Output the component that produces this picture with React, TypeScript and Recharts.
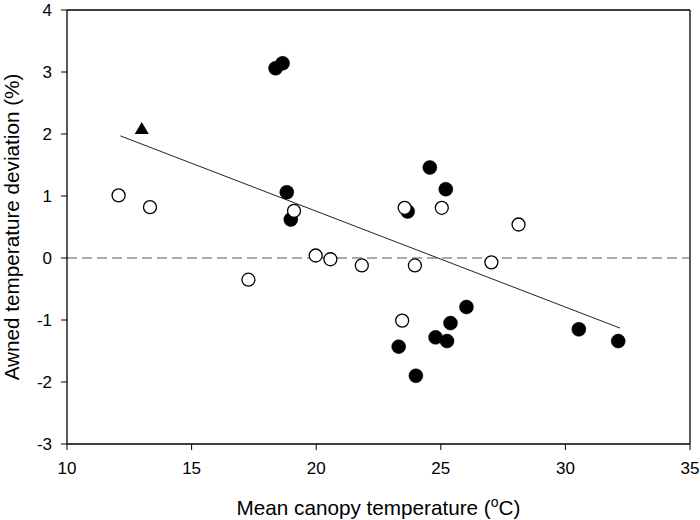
import { ScatterChart, Scatter, XAxis, YAxis, ReferenceLine } from "recharts";

// open circles
const openPoints = [
  { x: 12.07, y: 1.01 },
  { x: 13.33, y: 0.82 },
  { x: 17.28, y: -0.35 },
  { x: 19.11, y: 0.76 },
  { x: 19.98, y: 0.04 },
  { x: 20.57, y: -0.02 },
  { x: 21.83, y: -0.12 },
  { x: 23.45, y: -1.01 },
  { x: 23.55, y: 0.81 },
  { x: 23.96, y: -0.12 },
  { x: 25.04, y: 0.81 },
  { x: 27.03, y: -0.07 },
  { x: 28.12, y: 0.54 },
];

// filled circles
const filledPoints = [
  { x: 18.37, y: 3.06 },
  { x: 18.65, y: 3.14 },
  { x: 18.82, y: 1.06 },
  { x: 18.98, y: 0.62 },
  { x: 23.31, y: -1.43 },
  { x: 23.67, y: 0.75 },
  { x: 24.0, y: -1.9 },
  { x: 24.56, y: 1.46 },
  { x: 24.79, y: -1.28 },
  { x: 25.2, y: 1.11 },
  { x: 25.25, y: -1.34 },
  { x: 25.39, y: -1.05 },
  { x: 26.03, y: -0.79 },
  { x: 30.54, y: -1.15 },
  { x: 32.12, y: -1.34 },
];

const trianglePoints = [{ x: 13.0, y: 2.08 }];

// regression line end points
const fitLine = [
  { x: 12.14, y: 1.97 },
  { x: 32.19, y: -1.13 },
];

const xTicks = [10, 15, 20, 25, 30, 35];
const yTicks = [-3, -2, -1, 0, 1, 2, 3, 4];

const FONT = "'Liberation Sans', Arial, Helvetica, sans-serif";
const tickStyle = { fontSize: 17, fill: "#000", fontFamily: FONT };

const OpenDot = (props: any) => (
  <circle cx={props.cx} cy={props.cy} r={6.5} fill="#fff" stroke="#000" strokeWidth={1.3} />
);

const FilledDot = (props: any) => (
  <circle cx={props.cx} cy={props.cy} r={7} fill="#000" stroke="#000" strokeWidth={0.5} />
);

const Triangle = (props: any) => {
  const { cx, cy } = props;
  return (
    <path d={`M${cx},${cy - 7} L${cx + 7},${cy + 5} L${cx - 7},${cy + 5} Z`} fill="#000" />
  );
};

const XLabel = (props: any) => {
  const vb = props.viewBox || { x: 67, y: 444, width: 623, height: 76 };
  return (
    <text x={vb.x + vb.width / 2} y={vb.y + 71} textAnchor="middle" fontSize={20.7} fontFamily={FONT} fill="#000">
      Mean canopy temperature (
      <tspan fontSize={14} dy={-8}>o</tspan>
      <tspan dy={8}>C)</tspan>
    </text>
  );
};

const YLabel = (props: any) => {
  const vb = props.viewBox || { x: 0, y: 10, width: 67, height: 434 };
  const cx = 18.5;
  const cy = vb.y + vb.height / 2;
  return (
    <text x={cx} y={cy} transform={`rotate(-90, ${cx}, ${cy})`} textAnchor="middle" fontSize={20.7} fontFamily={FONT} fill="#000">
      Awned temperature deviation (%)
    </text>
  );
};

export default function App() {
  return (
    <div style={{ position: "absolute", left: 0, top: 0, background: "#fff" }}>
      <ScatterChart width={700} height={520} margin={{ top: 10, right: 10, left: 0, bottom: 0 }}>
        <XAxis
          type="number"
          dataKey="x"
          domain={[10, 35]}
          ticks={xTicks}
          allowDataOverflow
          height={76}
          tickSize={6}
          tickMargin={12}
          tick={tickStyle}
          stroke="#000"
          axisLine={{ stroke: "#000", strokeWidth: 1.3 }}
          tickLine={{ stroke: "#000", strokeWidth: 1 }}
          label={<XLabel />}
        />
        <YAxis
          type="number"
          dataKey="y"
          domain={[-3, 4]}
          ticks={yTicks}
          allowDataOverflow
          width={67}
          tickSize={6}
          tickMargin={9}
          tick={tickStyle}
          stroke="#000"
          axisLine={{ stroke: "#000", strokeWidth: 1.3 }}
          tickLine={{ stroke: "#000", strokeWidth: 1 }}
          label={<YLabel />}
        />
        <ReferenceLine y={4} stroke="#000" strokeWidth={1.3} />
        <ReferenceLine x={35} stroke="#000" strokeWidth={1.3} />
        <ReferenceLine y={0} stroke="#555" strokeWidth={1} strokeDasharray="10 5" />
        <Scatter data={fitLine} line={{ stroke: "#222", strokeWidth: 1 }} shape={() => <g />} isAnimationActive={false} />
        <Scatter data={filledPoints} shape={FilledDot} isAnimationActive={false} />
        <Scatter data={openPoints} shape={OpenDot} isAnimationActive={false} />
        <Scatter data={trianglePoints} shape={Triangle} isAnimationActive={false} />
      </ScatterChart>
    </div>
  );
}
